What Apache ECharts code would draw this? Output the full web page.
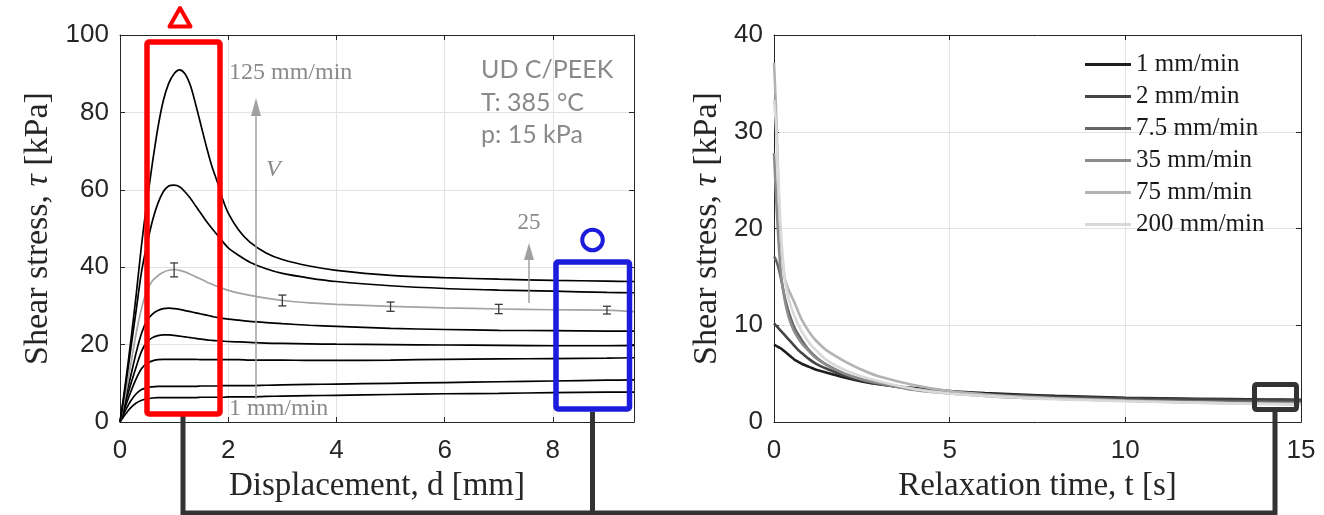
<!DOCTYPE html>
<html><head><meta charset="utf-8">
<script src="https://cdn.jsdelivr.net/npm/echarts@6/dist/echarts.min.js"></script>
<style>html,body{margin:0;padding:0;background:#fff}#c{width:1324px;height:515px}</style>
</head><body><div id="c"></div>
<script>
// ---------- DATA ----------
// Left panel: displacement [mm]
const dispX = [0,0.1,0.2,0.3,0.4,0.5,0.6,0.7,0.8,0.9,1.0,1.1,1.2,1.3,1.4,1.5,1.6,1.7,1.8,1.9,2.0,2.2,2.4,2.7,3.0,3.5,4,5,6,7,8,9,9.5];
const tau125 = [0,10,21,33,46,57,67,76,83,87.5,90,91,90,87,82,76.5,71,66,62,57.5,54,49.5,46.5,43.7,42,40.3,39.2,37.9,37.3,36.9,36.6,36.4,36.3];
const tauB   = [0,9,19,29,39,46,52,56.5,59.5,61,61.2,60.8,59.5,57.8,55.8,53.8,51.8,50,48.3,46.6,45,43,41.3,39.6,38.4,37.2,36.3,35.2,34.5,34.1,33.8,33.5,33.4];
const tau25  = [0,7,15,23,29.5,34,36.5,37.8,38.7,39.2,39.4,39.2,38.8,38.2,37.5,36.9,36.2,35.6,35,34.5,34,33.3,32.7,32,31.4,30.8,30.4,29.9,29.5,29.2,29,28.9,28.5];
const tauD   = [0,6,12,18,23,26.3,27.9,28.8,29.3,29.4,29.3,29.1,28.8,28.5,28.2,27.9,27.6,27.3,27,26.8,26.6,26.3,26,25.7,25.4,25,24.7,24.2,23.9,23.7,23.6,23.5,23.5];
const tauE   = [0,5,9.8,14.3,18.3,20.7,21.8,22.3,22.5,22.5,22.4,22.2,22,21.8,21.6,21.4,21.2,21.1,21,20.9,20.8,20.7,20.6,20.4,20.3,20.2,20.1,20,19.9,19.8,19.7,19.7,19.8];
const tauF   = [0,4,7.8,11.2,13.8,15.2,15.8,16.1,16.2,16.2,16.2,16.2,16.2,16.2,16.2,16.1,16.1,16.1,16.1,16.1,16.1,16.1,16.0,16.0,16.0,15.9,15.9,16,16.2,16.3,16.4,16.5,16.6];
const tauG   = [0,3,5.5,7.3,8.4,8.9,9.1,9.2,9.2,9.2,9.2,9.2,9.2,9.2,9.2,9.3,9.3,9.3,9.3,9.4,9.4,9.4,9.4,9.5,9.6,9.7,9.8,10,10.2,10.4,10.6,10.8,10.9];
const tau1   = [0,2,3.7,4.9,5.6,6,6.2,6.3,6.3,6.3,6.3,6.3,6.3,6.3,6.3,6.4,6.4,6.4,6.4,6.4,6.5,6.5,6.5,6.6,6.7,6.8,6.9,7.1,7.3,7.4,7.6,7.7,7.7];
// error bars on the 25 mm/min curve: [x, low, high]
const errX    = [1, 3, 5, 7, 9];
const errLow  = [37.5, 30.0, 28.6, 28.0, 27.9];
const errHigh = [41.1, 32.8, 31.0, 30.4, 29.9];

// Right panel: relaxation time [s]
const relT = [0,0.05,0.1,0.15,0.2,0.3,0.4,0.5,0.6,0.7,0.8,1.0,1.2,1.5,2,2.5,3,4,5,6,7,8,9,10,12,14,15];
const rel1   = [8.0,7.9,7.8,7.7,7.6,7.3,7.0,6.7,6.4,6.2,6.0,5.7,5.4,5.1,4.6,4.2,3.9,3.5,3.2,3.0,2.85,2.7,2.6,2.5,2.4,2.33,2.3];
const rel2   = [10.2,10.0,9.8,9.6,9.4,9.0,8.6,8.2,7.8,7.4,7.1,6.5,6.0,5.5,4.8,4.3,3.9,3.4,3.1,2.9,2.75,2.6,2.52,2.45,2.35,2.28,2.25];
const rel75a = [17.1,16.8,16.3,15.6,14.8,13.0,11.6,10.5,9.6,9.0,8.4,7.4,6.7,5.9,5.0,4.4,4.0,3.4,3.05,2.8,2.65,2.5,2.4,2.3,2.15,2.08,2.05];
const rel35  = [27.8,24,20.5,17.5,15.2,12.7,11.1,10,9.2,8.6,8.1,7.3,6.6,5.9,5.0,4.4,4.0,3.3,2.95,2.7,2.5,2.4,2.3,2.2,2.05,1.95,1.9];
const rel75  = [37.1,33,27.5,22,18.5,15,13.8,13,12.2,11.3,10.5,9.3,8.4,7.4,6.3,5.4,4.7,3.8,3.2,2.85,2.6,2.45,2.32,2.2,2.0,1.9,1.85];
const rel200 = [33.3,31,27,23,19.5,15,13,11.8,10.8,10,9.3,8.2,7.4,6.4,5.4,4.7,4.2,3.4,2.95,2.7,2.5,2.35,2.25,2.15,2.0,1.85,1.8];
const relNames  = ['1 mm/min','2 mm/min','7.5 mm/min','35 mm/min','75 mm/min','200 mm/min'];
const relColors = ['#1e1e1e','#444444','#656565','#8c8c8c','#b3b3b3','#d9d9d9'];

// ---------- CHART ----------
const zip = (xs, ys) => xs.map((x, i) => [x, ys[i]]);
const AX = '#262626';
const sans = 'Liberation Sans';
const serif = 'Liberation Serif';

function mainX(g, min, max, interval, name, showMax){
  return {type:'value', gridIndex:g, min, max, interval, position:'bottom',
    axisLine:{show:true, onZero:false, lineStyle:{color:AX, width:1}},
    axisTick:{show:true, inside:true, length:5, lineStyle:{color:AX}},
    axisLabel:{show:true, margin:16, fontFamily:sans, fontSize:26, color:AX, showMaxLabel:showMax},
    splitLine:{show:true, lineStyle:{color:'#e3e3e3', width:1}},
    name, nameLocation:'middle', nameGap:48,
    nameTextStyle:{fontFamily:serif, fontSize:33, color:AX}};
}
function boxX(g, min, max, interval){
  return {type:'value', gridIndex:g, min, max, interval, position:'top',
    axisLine:{show:true, onZero:false, lineStyle:{color:AX, width:1}},
    axisTick:{show:true, inside:true, length:5, lineStyle:{color:AX}},
    axisLabel:{show:false}, splitLine:{show:false}};
}
function mainY(g, min, max, interval, gap){
  return {type:'value', gridIndex:g, min, max, interval, position:'left',
    axisLine:{show:true, onZero:false, lineStyle:{color:AX, width:1}},
    axisTick:{show:true, inside:true, length:5, lineStyle:{color:AX}},
    axisLabel:{show:true, margin:11, fontFamily:sans, fontSize:26, color:AX},
    splitLine:{show:true, lineStyle:{color:'#e3e3e3', width:1}},
    name:'Shear stress, {i|τ} [kPa]', nameLocation:'middle', nameGap:gap,
    nameTextStyle:{fontFamily:serif, fontSize:34, color:AX,
      rich:{i:{fontFamily:serif, fontSize:34, fontStyle:'italic', color:AX}}}};
}
function boxY(g, min, max, interval){
  return {type:'value', gridIndex:g, min, max, interval, position:'right',
    axisLine:{show:true, onZero:false, lineStyle:{color:AX, width:1}},
    axisTick:{show:true, inside:true, length:5, lineStyle:{color:AX}},
    axisLabel:{show:false}, splitLine:{show:false}};
}

const leftCurves = [
  {n:'L 1', d:tau1, c:'#000'}, {n:'L 2', d:tauG, c:'#000'}, {n:'L 3', d:tauF, c:'#000'},
  {n:'L 4', d:tauE, c:'#000'}, {n:'L 5', d:tauD, c:'#000'}, {n:'L 25', d:tau25, c:'#a3a3a3'},
  {n:'L 6', d:tauB, c:'#000'}, {n:'L 125', d:tau125, c:'#000'}
];
const relData = [rel1, rel2, rel75a, rel35, rel75, rel200];

const series = [];
leftCurves.forEach(s => series.push({
  name:s.n, type:'line', xAxisIndex:0, yAxisIndex:0, data:zip(dispX, s.d),
  showSymbol:false, symbol:'none', smooth:0.3, z:3,
  lineStyle:{color:s.c, width:1.7}, itemStyle:{color:s.c}
}));
series.push({
  name:'err', type:'custom', xAxisIndex:0, yAxisIndex:0, z:4,
  data: errX.map((x, i) => [x, errLow[i], errHigh[i]]),
  encode:{x:0, y:[1,2]},
  renderItem:function(params, api){
    const x = api.value(0);
    const p1 = api.coord([x, api.value(1)]);
    const p2 = api.coord([x, api.value(2)]);
    const w = 4, st = {stroke:'#3a3a3a', lineWidth:1.3};
    return {type:'group', children:[
      {type:'line', shape:{x1:p1[0], y1:p1[1], x2:p2[0], y2:p2[1]}, style:st},
      {type:'line', shape:{x1:p1[0]-w, y1:p1[1], x2:p1[0]+w, y2:p1[1]}, style:st},
      {type:'line', shape:{x1:p2[0]-w, y1:p2[1], x2:p2[0]+w, y2:p2[1]}, style:st}
    ]};
  }
});
relNames.forEach((n, i) => series.push({
  name:n, type:'line', xAxisIndex:2, yAxisIndex:2, data:zip(relT, relData[i]),
  showSymbol:false, symbol:'none', smooth:0.3, z:3 + i*0.01,
  lineStyle:{color:relColors[i], width:2.6}, itemStyle:{color:relColors[i]}
}));

const annGray = '#8a8a8a';
const graphic = [
  {type:'rect', shape:{x:147, y:42, width:73, height:372, r:2}, style:{fill:'none', stroke:'#ff0000', lineWidth:5.5}, z:100},
  {type:'polygon', shape:{points:[[180,8],[169.5,26.5],[190.5,26.5]]}, style:{fill:'none', stroke:'#ff0000', lineWidth:4, lineJoin:'round'}, z:100},
  {type:'rect', shape:{x:556, y:262, width:73.5, height:147, r:2}, style:{fill:'none', stroke:'#1c1cdc', lineWidth:5.5}, z:100},
  {type:'circle', shape:{cx:592.5, cy:240, r:10.3}, style:{fill:'none', stroke:'#1c1cdc', lineWidth:4}, z:100},
  {type:'rect', shape:{x:1254.5, y:384.5, width:42, height:25, r:2}, style:{fill:'none', stroke:'#333333', lineWidth:5}, z:100},
  {type:'polyline', shape:{points:[[183,416],[183,513],[1275,513],[1275,412]]}, style:{fill:'none', stroke:'#333333', lineWidth:5}, z:99},
  {type:'line', shape:{x1:592.5, y1:411.5, x2:592.5, y2:513}, style:{stroke:'#333333', lineWidth:5}, z:99},
  {type:'line', shape:{x1:256, y1:399, x2:256, y2:112}, style:{stroke:'#a0a0a0', lineWidth:1.5}, z:50},
  {type:'polygon', shape:{points:[[256,98],[251,116],[261,116]]}, style:{fill:'#a0a0a0'}, z:50},
  {type:'line', shape:{x1:529, y1:303, x2:529, y2:256}, style:{stroke:'#a0a0a0', lineWidth:1.5}, z:50},
  {type:'polygon', shape:{points:[[529,243],[524,260],[534,260]]}, style:{fill:'#a0a0a0'}, z:50},
  {type:'text', x:229, y:73, style:{text:'125 mm/min', font:'24px "Liberation Serif"', fill:annGray, verticalAlign:'middle'}, z:50},
  {type:'text', x:266, y:170, style:{text:'V', font:'italic 24px "Liberation Serif"', fill:annGray, verticalAlign:'middle'}, z:50},
  {type:'text', x:229, y:409, style:{text:'1 mm/min', font:'24px "Liberation Serif"', fill:annGray, verticalAlign:'middle'}, z:50},
  {type:'text', x:529, y:223, style:{text:'25', font:'23px "Liberation Serif"', fill:annGray, align:'center', verticalAlign:'middle'}, z:50},
  {type:'text', x:481, y:70, style:{text:'UD C/PEEK', font:'25px Lato', fill:annGray, verticalAlign:'middle'}, z:50},
  {type:'text', x:481, y:103, style:{text:'T: 385 °C', font:'25px Lato', fill:annGray, verticalAlign:'middle'}, z:50},
  {type:'text', x:481, y:135, style:{text:'p: 15 kPa', font:'25px Lato', fill:annGray, verticalAlign:'middle'}, z:50}
];

const option = {
  animation:false,
  backgroundColor:'#fff',
  grid:[
    {left:120, top:35, width:514, height:387, outerBoundsMode:'none', containLabel:false},
    {left:774, top:35, width:527, height:387, outerBoundsMode:'none', containLabel:false}
  ],
  xAxis:[
    mainX(0, 0, 9.5, 2, 'Displacement, d [mm]', false),
    boxX(0, 0, 9.5, 2),
    mainX(1, 0, 15, 5, 'Relaxation time, t [s]', true),
    boxX(1, 0, 15, 5)
  ],
  yAxis:[
    mainY(0, 0, 100, 20, 65),
    boxY(0, 0, 100, 20),
    mainY(1, 0, 40, 10, 50),
    boxY(1, 0, 40, 10)
  ],
  legend:{
    data:relNames, orient:'vertical', left:1085, top:52, padding:0,
    icon:'rect', itemWidth:46, itemHeight:3, itemGap:7,
    textStyle:{fontFamily:serif, fontSize:25, color:'#1a1a1a', lineHeight:22},
    selectedMode:false
  },
  series,
  graphic
};
const chart = echarts.init(document.getElementById('c'));
chart.setOption(option);
</script>
</body></html>
